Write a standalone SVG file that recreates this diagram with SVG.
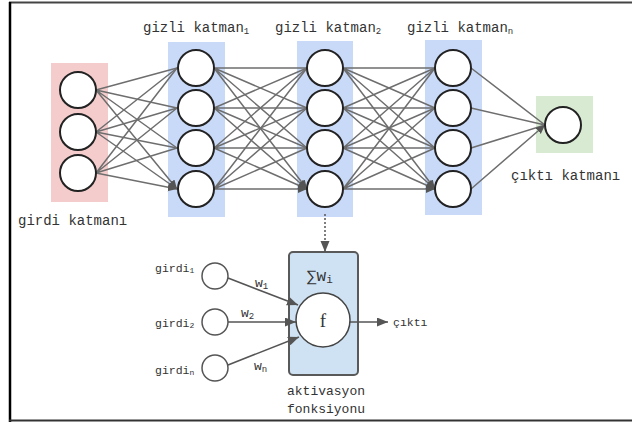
<svg xmlns="http://www.w3.org/2000/svg" width="632" height="423" viewBox="0 0 632 423">
  <style>
    .lbl { font-family: "Liberation Mono", "DejaVu Sans Mono", monospace; fill: #333; }
    .big { font-size: 14px; }
    .mid { font-size: 13px; }
    .sm { font-size: 11.5px; }
    .node { fill: #fff; stroke: #222; stroke-width: 2; }
    .edge { stroke: #6e6e6e; stroke-width: 1.5; fill: none; marker-end: url(#arr); }
    .edge2 { stroke: #555; stroke-width: 1.6; fill: none; marker-end: url(#arr2); }
  </style>
  <defs>
    <marker id="arr" markerUnits="userSpaceOnUse" markerWidth="10" markerHeight="10" refX="9" refY="4" orient="auto">
      <path d="M0,0 L9,4 L0,8 Z" fill="#555"/>
    </marker>
    <marker id="arr2" markerUnits="userSpaceOnUse" markerWidth="12" markerHeight="10" refX="11" refY="4.5" orient="auto">
      <path d="M0,0 L11,4.5 L0,9 Z" fill="#555"/>
    </marker>
  </defs>

  <rect x="0" y="0" width="632" height="423" fill="#fff"/>
  <!-- frame -->
  <line x1="9" y1="2.5" x2="632" y2="2.5" stroke="#444" stroke-width="2"/>
  <line x1="10" y1="2" x2="10" y2="422" stroke="#000" stroke-width="2.5"/>
  <line x1="9" y1="420.5" x2="632" y2="420.5" stroke="#333" stroke-width="2"/>

  <!-- layer backgrounds -->
  <rect x="51" y="63" width="57" height="139" fill="#f4cccc"/>
  <rect x="168" y="42" width="57" height="175" fill="#c9daf8"/>
  <rect x="297" y="41" width="56" height="176" fill="#c9daf8"/>
  <rect x="425" y="40" width="57" height="175" fill="#c9daf8"/>
  <rect x="536" y="96" width="57" height="57" fill="#d9ead3"/>

  <!-- activation box (behind its incoming arrows) -->
  <g id="activation">
    <rect x="289" y="252" width="69" height="123" rx="4" fill="#cfe2f3" stroke="#595959" stroke-width="2"/>
    <text class="lbl" font-size="16" x="307" y="281">∑w<tspan font-size="11" dy="2">i</tspan></text>
    <text class="lbl mid" x="287" y="395">aktivasyon</text>
    <text class="lbl mid" x="287" y="413">fonksiyonu</text>
  </g>

  <!-- connectors -->
  <g id="connectors">
    <!-- input -> hidden 1 -->
    <path class="edge" d="M96,90 L177,68 M96,90 L177,108 M96,90 L177,148 M96,90 L177,189"/>
    <path class="edge" d="M96,132 L177,68 M96,132 L177,108 M96,132 L177,148 M96,132 L177,189"/>
    <path class="edge" d="M96,173 L177,68 M96,173 L177,108 M96,173 L177,148 M96,173 L177,189"/>
    <!-- hidden 1 -> hidden 2 -->
    <path class="edge" d="M214,68 L307,68 M214,68 L307,108 M214,68 L307,148 M214,68 L307,189"/>
    <path class="edge" d="M214,108 L307,68 M214,108 L307,108 M214,108 L307,148 M214,108 L307,189"/>
    <path class="edge" d="M214,148 L307,68 M214,148 L307,108 M214,148 L307,148 M214,148 L307,189"/>
    <path class="edge" d="M214,189 L307,68 M214,189 L307,108 M214,189 L307,148 M214,189 L307,189"/>
    <!-- hidden 2 -> hidden n -->
    <path class="edge" d="M343,68 L435,68 M343,68 L435,108 M343,68 L435,148 M343,68 L435,189"/>
    <path class="edge" d="M343,108 L435,68 M343,108 L435,108 M343,108 L435,148 M343,108 L435,189"/>
    <path class="edge" d="M343,148 L435,68 M343,148 L435,108 M343,148 L435,148 M343,148 L435,189"/>
    <path class="edge" d="M343,189 L435,68 M343,189 L435,108 M343,189 L435,148 M343,189 L435,189"/>
    <!-- hidden n -> output -->
    <path class="edge" d="M471,68 L545,125 M471,108 L545,125 M471,148 L545,125 M471,189 L545,125"/>
    <!-- zoom-in pointer -->
    <line x1="325" y1="214" x2="325" y2="252" stroke="#555" stroke-width="1.5" stroke-dasharray="2 2" marker-end="url(#arr2)"/>
    <!-- neuron inputs and output -->
    <line class="edge2" x1="228" y1="278" x2="298" y2="305"/>
    <line class="edge2" x1="228" y1="322" x2="296" y2="322"/>
    <line class="edge2" x1="228" y1="365" x2="299" y2="337"/>
    <line class="edge2" x1="350" y1="322" x2="388" y2="322"/>
  </g>

  <!-- layer nodes -->
  <g id="input-layer">
    <circle class="node" cx="78" cy="90" r="18"/>
    <circle class="node" cx="78" cy="132" r="18"/>
    <circle class="node" cx="78" cy="173" r="18"/>
  </g>
  <g id="hidden-1">
    <circle class="node" cx="196" cy="68" r="18"/>
    <circle class="node" cx="196" cy="108" r="18"/>
    <circle class="node" cx="196" cy="148" r="18"/>
    <circle class="node" cx="196" cy="189" r="18"/>
  </g>
  <g id="hidden-2">
    <circle class="node" cx="325" cy="68" r="18"/>
    <circle class="node" cx="325" cy="108" r="18"/>
    <circle class="node" cx="325" cy="148" r="18"/>
    <circle class="node" cx="325" cy="189" r="18"/>
  </g>
  <g id="hidden-n">
    <circle class="node" cx="453" cy="68" r="18"/>
    <circle class="node" cx="453" cy="108" r="18"/>
    <circle class="node" cx="453" cy="148" r="18"/>
    <circle class="node" cx="453" cy="189" r="18"/>
  </g>
  <g id="output-layer">
    <circle class="node" cx="563" cy="125" r="18"/>
  </g>

  <!-- layer captions -->
  <g id="captions">
    <text class="lbl big" x="143" y="32">gizli katman<tspan font-size="9" dy="2">1</tspan></text>
    <text class="lbl big" x="275" y="32">gizli katman<tspan font-size="9" dy="2">2</tspan></text>
    <text class="lbl big" x="407" y="32">gizli katman<tspan font-size="9" dy="2">n</tspan></text>
    <text class="lbl big" x="18" y="225">girdi katmanı</text>
    <text class="lbl big" x="511" y="180">çıktı katmanı</text>
  </g>

  <!-- single neuron detail -->
  <g id="neuron-inputs">
    <circle fill="#fff" stroke="#555" stroke-width="1.5" cx="215" cy="276" r="13"/>
    <circle fill="#fff" stroke="#555" stroke-width="1.5" cx="215" cy="322" r="13"/>
    <circle fill="#fff" stroke="#555" stroke-width="1.5" cx="215" cy="368" r="13"/>
    <text class="lbl sm" x="155" y="272">girdi<tspan font-size="8" dy="1">1</tspan></text>
    <text class="lbl sm" x="155" y="327">girdi<tspan font-size="8" dy="1">2</tspan></text>
    <text class="lbl sm" x="155" y="374">girdi<tspan font-size="8" dy="1">n</tspan></text>
    <text class="lbl mid" x="255" y="287">w<tspan font-size="9" dy="2">1</tspan></text>
    <text class="lbl mid" x="241" y="317">w<tspan font-size="9" dy="2">2</tspan></text>
    <text class="lbl mid" x="254" y="370">w<tspan font-size="9" dy="2">n</tspan></text>
  </g>
  <g id="activation-function">
    <circle fill="#fff" stroke="#444" stroke-width="1.5" cx="323" cy="320" r="27"/>
    <text x="323" y="327" text-anchor="middle" font-family="Liberation Serif, serif" font-size="19" fill="#333">f</text>
  </g>
  <g id="output-label">
    <text class="lbl sm" x="393" y="326">çıktı</text>
  </g>
</svg>
